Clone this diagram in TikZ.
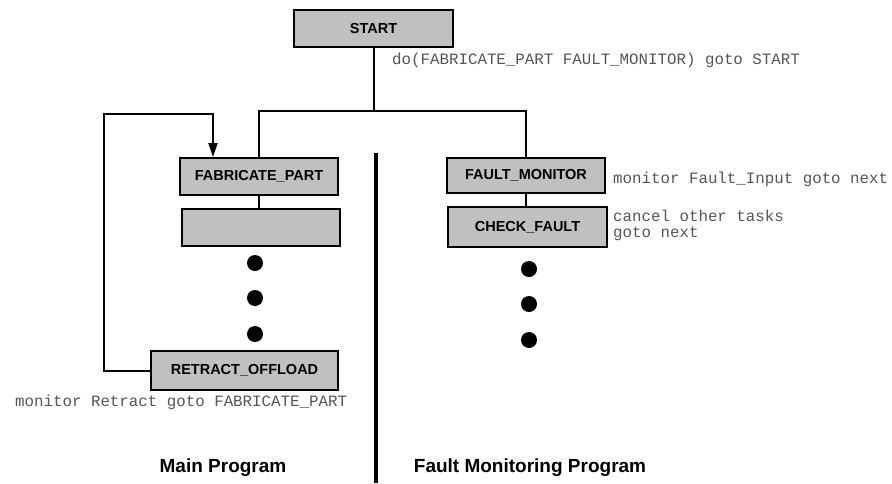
\documentclass[tikz,border=0pt]{standalone}
\usepackage{fontspec}
\setmainfont{Liberation Sans}
\newfontfamily\codefont{Liberation Mono}
\usetikzlibrary{arrows.meta}
\definecolor{boxgray}{RGB}{192,192,192}
\definecolor{codegray}{RGB}{85,85,85}
\begin{document}
\begin{tikzpicture}[x=1pt,y=-1pt,
  taskbox/.style={draw=black, line width=2pt, fill=boxgray, inner sep=0pt,
    font=\fontsize{14.5}{16}\selectfont\bfseries},
  link/.style={line width=2pt},
  codetext/.style={font=\codefont\fontsize{15.8}{15.5}\selectfont, text=codegray,
    inner sep=0pt, anchor=west, align=left},
  heading/.style={font=\fontsize{19}{22}\selectfont\bfseries, inner sep=0pt},
  dot/.style={circle, fill=black, inner sep=0pt, minimum size=16pt}]
\useasboundingbox (0,0) rectangle (892,483);

% task boxes
\node[taskbox, minimum width=159pt, minimum height=37pt] (start)   at (373.5,28.5) {START};
\node[taskbox, minimum width=158pt, minimum height=37pt] (fab)     at (259,176.5)  {FABRICATE\_PART};
\node[taskbox, minimum width=158pt, minimum height=37pt] (blank)   at (261,227.5)  {};
\node[taskbox, minimum width=187pt, minimum height=39pt] (retract) at (244.5,370.5) {RETRACT\_OFFLOAD};
\node[taskbox, minimum width=158pt, minimum height=35pt] (fault)   at (526,175.5)  {FAULT\_MONITOR};
\node[taskbox, minimum width=159pt, minimum height=40pt] (check)   at (527.5,227)  {CHECK\_FAULT};

% ellipsis dots
\node[dot] (ld1) at (255,263) {};
\node[dot] (ld2) at (255,298) {};
\node[dot] (ld3) at (255,334) {};
\node[dot] (rd1) at (529,269) {};
\node[dot] (rd2) at (529,304) {};
\node[dot] (rd3) at (529,340) {};

% connectors
\coordinate (split) at (373.5,111);
\draw[link] (start.south) -- (split);
\draw[link] (fab.north) |- (split) -| (fault.north);
\draw[link] (fab.south) -- (fab.south |- blank.north);
\draw[link] (fault.south) -- (fault.south |- check.north);
\coordinate (loopcorner) at (104,114);
\draw[link, -{Triangle[length=14pt,width=9pt]}]
  (retract.west) -| (loopcorner) -| ([xshift=-46pt]fab.north);

% divider between the two programs
\draw[line width=3.5pt] (376,153) -- (376,483);

% code annotations
\node[codetext] (startnote) at (392,60) {do(FABRICATE\_PART FAULT\_MONITOR) goto START};
\node[codetext] (faultnote) at (613,179) {monitor Fault\_Input goto next};
\node[codetext] (checknote) at (613,225.5) {cancel other tasks\\goto next};
\node[codetext] (retractnote) at (15,402) {monitor Retract goto FABRICATE\_PART};

% program headings
\node[heading] (mainhead)  at (223,468) {Main Program};
\node[heading] (faulthead) at (530,468) {Fault Monitoring Program};
\end{tikzpicture}
\end{document}
